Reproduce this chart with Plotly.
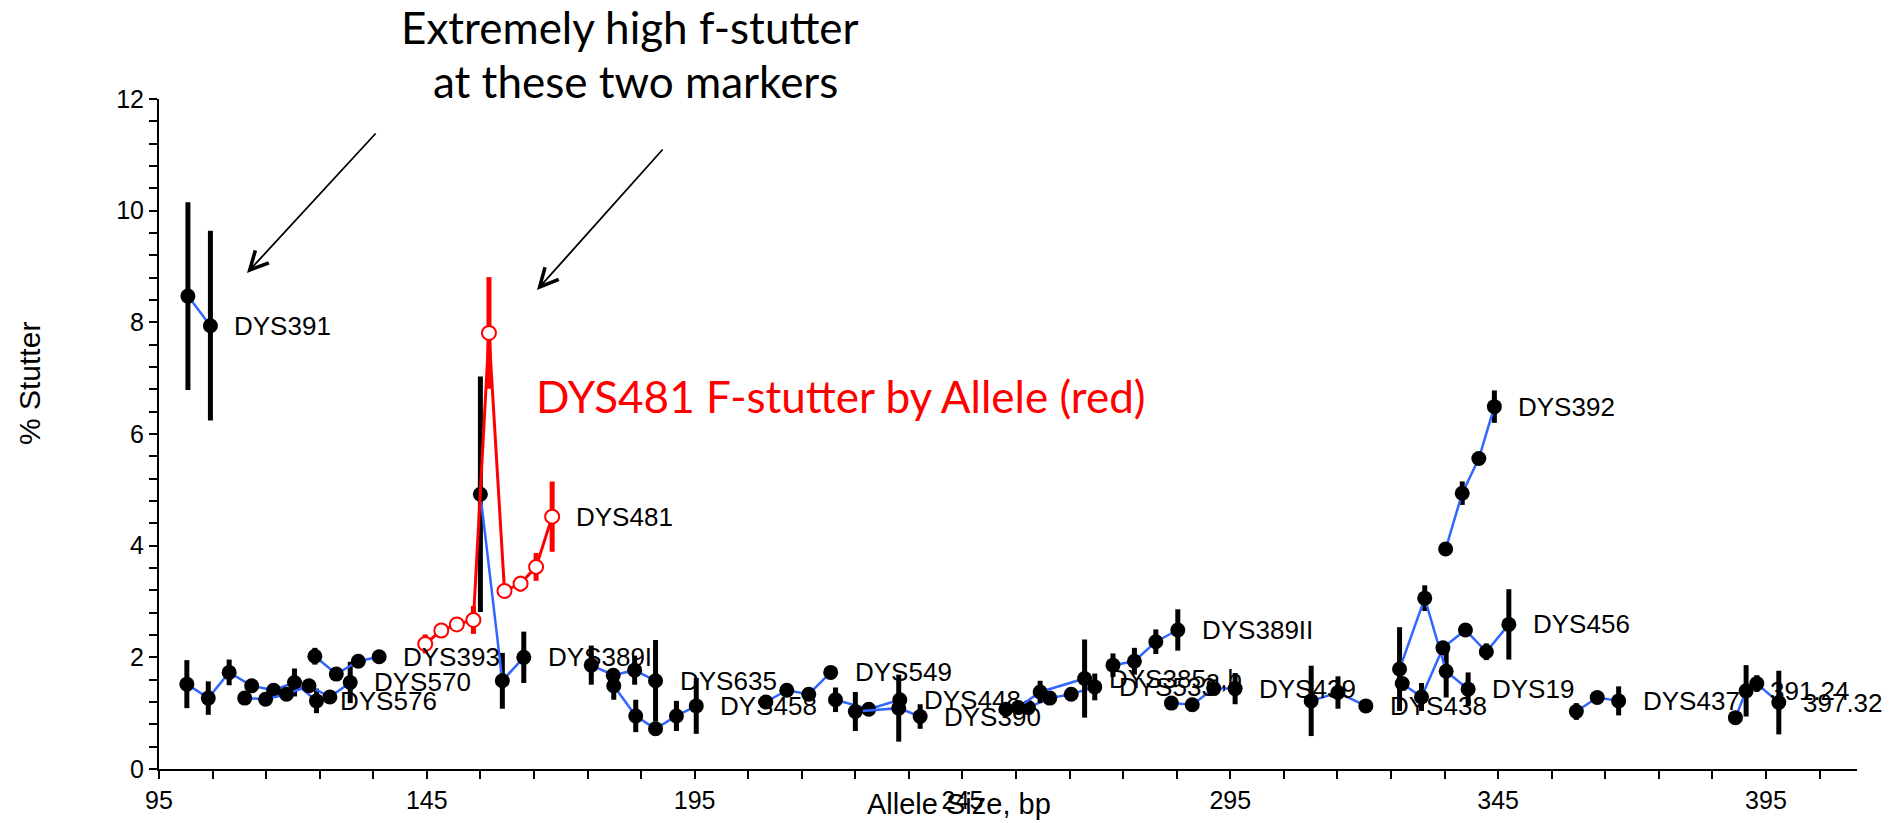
import plotly.graph_objects as go

# ---------------- data ----------------
DYS391_X = [100.4, 104.6]
DYS391_Y = [8.47, 7.94]
DYS391_E = [1.68, 1.70]

DYS576_X = [100.2, 104.2, 108.1, 112.3, 116.4, 120.3, 124.4]
DYS576_Y = [1.52, 1.27, 1.73, 1.49, 1.41, 1.55, 1.22]
DYS576_E = [0.43, 0.30, 0.23, 0.08, 0.08, 0.25, 0.22]

DYS570_X = [111.0, 114.9, 118.8, 123.0, 126.9, 130.7]
DYS570_Y = [1.27, 1.25, 1.34, 1.49, 1.29, 1.55]
DYS570_E = [0.06, 0.06, 0.06, 0.06, 0.06, 0.37]

DYS393_X = [124.1, 128.1, 132.2, 136.1]
DYS393_Y = [2.02, 1.70, 1.93, 2.01]
DYS393_E = [0.15, 0.06, 0.06, 0.04]

DYS389I_X = [155.0, 159.1, 163.1]
DYS389I_Y = [4.92, 1.58, 2.00]
DYS389I_E = [2.11, 0.50, 0.46]

DYS635_X = [175.7, 179.8, 183.8, 187.7]
DYS635_Y = [1.86, 1.68, 1.77, 1.58]
DYS635_E = [0.35, 0.06, 0.26, 0.73]

DYS458_X = [179.9, 184.0, 187.7, 191.6, 195.3]
DYS458_Y = [1.49, 0.95, 0.72, 0.95, 1.13]
DYS458_E = [0.25, 0.29, 0.12, 0.27, 0.50]

DYS549_X = [208.3, 212.2, 216.3, 220.4]
DYS549_Y = [1.20, 1.41, 1.34, 1.73]
DYS549_E = [0.05, 0.05, 0.05, 0.05]

DYS448_X = [221.3, 227.5, 233.3]
DYS448_Y = [1.24, 1.07, 1.24]
DYS448_E = [0.22, 0.05, 0.10]

DYS390_X = [225.0, 233.1, 237.1]
DYS390_Y = [1.03, 1.09, 0.94]
DYS390_E = [0.35, 0.60, 0.22]

DYS533_X = [253.1, 257.3, 261.3, 265.3, 269.7]
DYS533_Y = [1.07, 1.10, 1.27, 1.34, 1.47]
DYS533_E = [0.05, 0.05, 0.05, 0.05, 0.24]

DYS385_X = [255.4, 259.5, 267.8]
DYS385_Y = [1.10, 1.38, 1.62]
DYS385_E = [0.05, 0.20, 0.70]

DYS389II_X = [273.1, 277.1, 281.1, 285.2]
DYS389II_Y = [1.86, 1.93, 2.28, 2.49]
DYS389II_E = [0.21, 0.24, 0.22, 0.37]

DYS439_X = [284.0, 287.9, 291.9, 295.9]
DYS439_Y = [1.18, 1.15, 1.44, 1.44]
DYS439_E = [0.08, 0.05, 0.05, 0.28]

DYS438_X = [310.1, 315.1, 320.3]
DYS438_Y = [1.22, 1.37, 1.13]
DYS438_E = [0.63, 0.29, 0.05]

DYS19_X = [326.6, 331.3, 335.3, 339.4]
DYS19_Y = [1.79, 3.06, 1.75, 1.43]
DYS19_E = [0.75, 0.23, 0.47, 0.30]

DYS456_X = [327.1, 330.7, 334.7, 338.9, 342.8, 347.0]
DYS456_Y = [1.53, 1.29, 2.17, 2.49, 2.10, 2.59]
DYS456_E = [0.05, 0.25, 0.05, 0.05, 0.15, 0.63]

DYS392_X = [335.2, 338.3, 341.4, 344.3]
DYS392_Y = [3.94, 4.94, 5.56, 6.49]
DYS392_E = [0.05, 0.21, 0.05, 0.29]

DYS437_X = [359.6, 363.5, 367.5]
DYS437_Y = [1.03, 1.28, 1.22]
DYS437_E = [0.15, 0.10, 0.26]

S39124_X = [389.3, 391.3]
S39124_Y = [0.92, 1.40]
S39124_E = [0.10, 0.46]

S39732_X = [393.3, 397.4]
S39732_Y = [1.53, 1.19]
S39732_E = [0.15, 0.57]

# DYS481 forward stutter by allele (red)
DYS481F_X = [144.7, 147.7, 150.6, 153.7, 156.6, 159.5, 162.5, 165.4, 168.4]
DYS481F_Y = [2.24, 2.48, 2.59, 2.67, 7.81, 3.19, 3.32, 3.62, 4.52]
DYS481F_E = [0.17, 0.06, 0.05, 0.25, 1.00, 0.05, 0.14, 0.25, 0.63]

X_TICKS = [95, 145, 195, 245, 295, 345, 395]
Y_TICKS = [0, 2, 4, 6, 8, 10, 12]

BLACK_SERIES = [
    ("DYS391", DYS391_X, DYS391_Y, DYS391_E),
    ("DYS576", DYS576_X, DYS576_Y, DYS576_E),
    ("DYS570", DYS570_X, DYS570_Y, DYS570_E),
    ("DYS393", DYS393_X, DYS393_Y, DYS393_E),
    ("DYS389I", DYS389I_X, DYS389I_Y, DYS389I_E),
    ("DYS635", DYS635_X, DYS635_Y, DYS635_E),
    ("DYS458", DYS458_X, DYS458_Y, DYS458_E),
    ("DYS549", DYS549_X, DYS549_Y, DYS549_E),
    ("DYS448", DYS448_X, DYS448_Y, DYS448_E),
    ("DYS390", DYS390_X, DYS390_Y, DYS390_E),
    ("DYS533", DYS533_X, DYS533_Y, DYS533_E),
    ("DYS385a,b", DYS385_X, DYS385_Y, DYS385_E),
    ("DYS389II", DYS389II_X, DYS389II_Y, DYS389II_E),
    ("DYS439", DYS439_X, DYS439_Y, DYS439_E),
    ("DYS438", DYS438_X, DYS438_Y, DYS438_E),
    ("DYS19", DYS19_X, DYS19_Y, DYS19_E),
    ("DYS456", DYS456_X, DYS456_Y, DYS456_E),
    ("DYS392", DYS392_X, DYS392_Y, DYS392_E),
    ("DYS437", DYS437_X, DYS437_Y, DYS437_E),
    ("391.24", S39124_X, S39124_Y, S39124_E),
    ("397.32", S39732_X, S39732_Y, S39732_E),
]

# ---------------- layout geometry (page pixels) ----------------
W, H = 1889, 823              # figure fills the window (body margin removed)
PL, PT, PW, PH = 159, 99, 1698, 670   # plot area in page pixels
ML, MT = PL, PT
MR = W - ML - PW
MB = H - MT - PH


def pxx(px):
    return (px - PL) / PW


def pxy(py):
    return (PT + PH - py) / PH


ARIAL = "Liberation Sans, Arial, sans-serif"
CALIBRI = "Lato, Open Sans, sans-serif"
BLUE = "#3366FF"

fig = go.Figure()

for name, xs, ys, es in BLACK_SERIES:
    fig.add_trace(go.Scatter(
        x=xs, y=ys, mode="lines+markers", name=name,
        line=dict(color=BLUE, width=2.5),
        marker=dict(color="black", size=15),
        error_y=dict(type="data", array=es, visible=True,
                     color="black", thickness=5, width=0),
        showlegend=False, hoverinfo="x+y+name",
    ))

fig.add_trace(go.Scatter(
    x=DYS481F_X, y=DYS481F_Y, mode="lines+markers", name="DYS481",
    line=dict(color="red", width=3),
    marker=dict(color="white", size=14, line=dict(color="red", width=2)),
    error_y=dict(type="data", array=DYS481F_E, visible=True,
                 color="red", thickness=5, width=0),
    showlegend=False, hoverinfo="x+y+name",
))

annotations = []
# data labels at last point of each series
for name, xs, ys, es in BLACK_SERIES + [("DYS481", DYS481F_X, DYS481F_Y, DYS481F_E)]:
    annotations.append(dict(
        x=xs[-1], y=ys[-1], xref="x", yref="y", text=name, showarrow=False,
        xanchor="left", yanchor="middle", xshift=22,
        font=dict(family=ARIAL, size=26, color="black"),
    ))

# callouts
annotations += [
    dict(x=pxx(630), y=pxy(27), xref="paper", yref="paper",
         text="Extremely high f-stutter", showarrow=False,
         xanchor="center", yanchor="middle",
         font=dict(family=CALIBRI, size=44, color="black")),
    dict(x=pxx(635), y=pxy(81), xref="paper", yref="paper",
         text="at these two markers", showarrow=False,
         xanchor="center", yanchor="middle",
         font=dict(family=CALIBRI, size=44, color="black")),
    dict(x=pxx(841), y=pxy(396), xref="paper", yref="paper",
         text="DYS481 F-stutter by Allele (red)", showarrow=False,
         xanchor="center", yanchor="middle",
         font=dict(family=CALIBRI, size=44, color="red")),
    dict(x=pxx(247), y=pxy(273), xref="paper", yref="paper", text="",
         showarrow=True, ax=130, ay=-141, axref="pixel", ayref="pixel",
         arrowhead=5, arrowsize=2, arrowwidth=1.8, arrowcolor="black"),
    dict(x=pxx(537), y=pxy(290), xref="paper", yref="paper", text="",
         showarrow=True, ax=127, ay=-142, axref="pixel", ayref="pixel",
         arrowhead=5, arrowsize=2, arrowwidth=1.8, arrowcolor="black"),
    # axis titles
    dict(x=pxx(959), y=pxy(804), xref="paper", yref="paper",
         text="Allele Size, bp", showarrow=False,
         xanchor="center", yanchor="middle",
         font=dict(family=ARIAL, size=29, color="black")),
    dict(x=pxx(29), y=pxy(384), xref="paper", yref="paper",
         text="% Stutter", showarrow=False, textangle=-90,
         xanchor="center", yanchor="middle",
         font=dict(family=ARIAL, size=30, color="black")),
]

fig.update_layout(
    width=W, height=H,
    margin=dict(l=ML, r=MR, t=MT, b=MB, autoexpand=False),
    paper_bgcolor="white", plot_bgcolor="white",
    annotations=annotations,
    xaxis=dict(
        range=[95, 412], tickmode="array", tickvals=X_TICKS,
        ticktext=[str(v) for v in X_TICKS], automargin=False,
        showgrid=False, zeroline=False, showline=True,
        linecolor="black", linewidth=2,
        ticks="outside", ticklen=8, tickwidth=2, tickcolor="black",
        minor=dict(dtick=10, tick0=95, ticks="outside", ticklen=8,
                   tickwidth=2, tickcolor="black", showgrid=False),
        tickfont=dict(family=ARIAL, size=25, color="black"),
    ),
    yaxis=dict(
        range=[0, 12], tickmode="array", tickvals=Y_TICKS, automargin=False,
        showgrid=False, zeroline=False, showline=True,
        linecolor="black", linewidth=2,
        ticks="outside", ticklen=8, tickwidth=2, tickcolor="black",
        minor=dict(dtick=0.4, tick0=0, ticks="outside", ticklen=8,
                   tickwidth=2, tickcolor="black", showgrid=False),
        tickfont=dict(family=ARIAL, size=25, color="black"),
    ),
)

fig.write_html(
    "out.html",
    config={"displayModeBar": False},
    post_script="document.body.style.margin='0px';"
                "document.body.style.overflow='hidden';",
)
